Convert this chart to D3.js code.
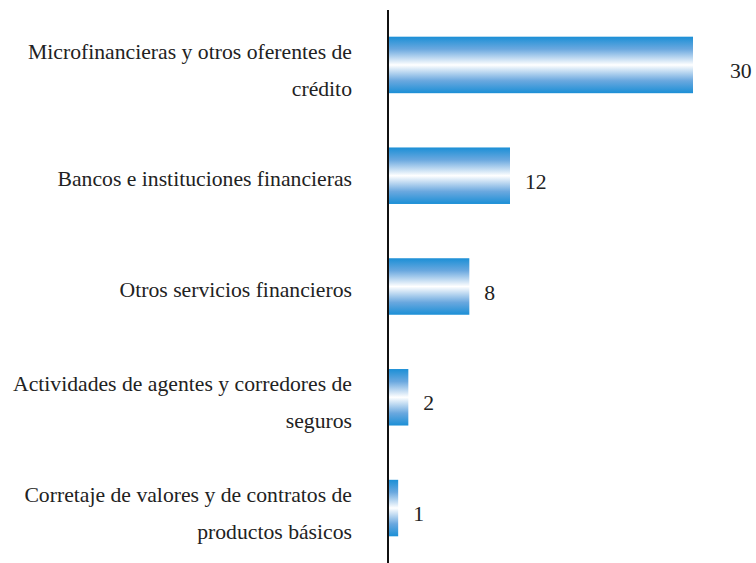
<!DOCTYPE html>
<html>
<head>
<meta charset="utf-8">
<script src="https://cdn.jsdelivr.net/npm/d3@7"></script>
<style>
  body { margin: 0; background: #fff; }
  svg { display: block; }
</style>
</head>
<body>
<svg id="chart" width="756" height="563"></svg>
<script>
// data
const categories = [
  ['Microfinancieras y otros oferentes de', 'crédito'],
  ['Bancos e instituciones financieras'],
  ['Otros servicios financieros'],
  ['Actividades de agentes y corredores de', 'seguros'],
  ['Corretaje de valores y de contratos de', 'productos básicos']
];
const values = [30, 12, 8, 2, 1];
const labelGap = [37, 15, 15, 15, 15];

const width = 756, height = 563;
const x0 = 388;
const font = "'Liberation Serif', 'Times New Roman', serif";
const fontSize = 21.7;

const svg = d3.select('#chart');

const x = d3.scaleLinear().domain([0, 30]).range([x0, 693]);
const y = d3.scaleBand()
  .domain(d3.range(values.length))
  .range([9, 564])
  .paddingInner(0.49)
  .paddingOuter(0.25);

const grad = svg.append('defs').append('linearGradient')
  .attr('id', 'barGrad')
  .attr('x1', 0).attr('y1', 0).attr('x2', 0).attr('y2', 1);
grad.append('stop').attr('offset', '0%').attr('stop-color', '#1b8fd6');
grad.append('stop').attr('offset', '22%').attr('stop-color', '#6aa8df');
grad.append('stop').attr('offset', '50%').attr('stop-color', '#ffffff');
grad.append('stop').attr('offset', '78%').attr('stop-color', '#6aa8df');
grad.append('stop').attr('offset', '100%').attr('stop-color', '#1b8fd6');

svg.append('g').selectAll('rect')
  .data(values)
  .join('rect')
  .attr('x', x(0))
  .attr('y', (d, i) => y(i))
  .attr('width', d => x(d) - x(0))
  .attr('height', y.bandwidth())
  .attr('fill', 'url(#barGrad)');

// axis line
svg.append('line')
  .attr('x1', x0).attr('x2', x0)
  .attr('y1', 10).attr('y2', height)
  .attr('stroke', '#111')
  .attr('stroke-width', 2);

// value labels
svg.append('g').selectAll('text')
  .data(values)
  .join('text')
  .attr('x', (d, i) => x(d) + labelGap[i])
  .attr('y', (d, i) => y(i) + y.bandwidth() / 2 + 13)
  .attr('font-family', font)
  .attr('font-size', fontSize)
  .attr('fill', '#222')
  .text(d => d);

// category labels
const lineH = 37;
svg.append('g').selectAll('text')
  .data(categories)
  .join('text')
  .attr('text-anchor', 'end')
  .attr('font-family', font)
  .attr('font-size', fontSize)
  .attr('fill', '#222')
  .attr('y', (d, i) => y(i) + y.bandwidth() / 2 + (d.length > 1 ? 12.5 : 10.5) - (d.length - 1) * lineH / 2)
  .each(function (d) {
    d3.select(this).selectAll('tspan')
      .data(d)
      .join('tspan')
      .attr('x', 352)
      .attr('dy', (t, j) => j === 0 ? 0 : lineH)
      .text(t => t);
  });
</script>
</body>
</html>
